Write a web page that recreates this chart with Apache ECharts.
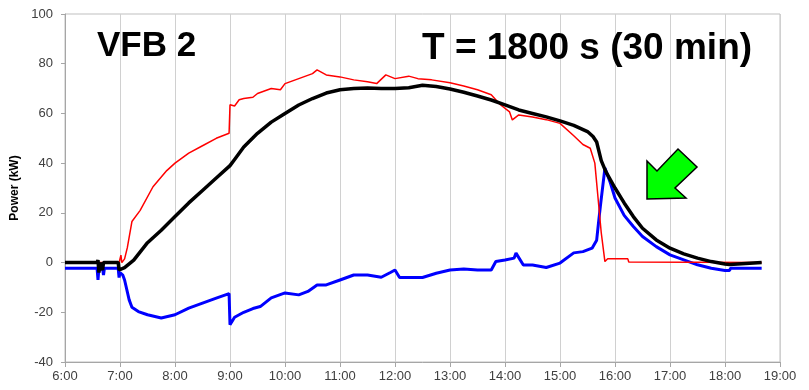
<!DOCTYPE html>
<html>
<head>
<meta charset="utf-8">
<script src="https://cdn.jsdelivr.net/npm/echarts@6/dist/echarts.min.js"></script>
<style>
  html, body { margin: 0; padding: 0; background: #fff; }
  #chart { width: 809px; height: 390px; }
</style>
</head>
<body>
<div id="chart"></div>
<script>
// time of day (h:mm) and power (kW)
var blackTimes = ['6:00','6:35','6:36','6:37','6:38','6:40','6:41','6:42','6:58','6:59','7:00','7:01','7:05','7:10','7:15','7:30','7:45','8:00','8:15','8:30','8:45','9:00','9:05','9:15','9:30','9:45','10:00','10:15','10:30','10:45','11:00','11:15','11:30','11:45','12:00','12:15','12:30','12:45','13:00','13:15','13:30','13:45','14:00','14:15','14:30','14:45','15:00','15:15','15:30','15:36','15:40','15:45','15:50','16:00','16:10','16:20','16:30','16:45','17:00','17:15','17:30','17:45','18:00','18:05','18:06','18:40'];
var blackValues = [0,0,1,-4,0,0.8,-3,0,0,-3,-3,-3.5,-2,-0.5,1,8,13,18.5,24,29,34,39,41.5,46.5,52,56.5,60,63.4,66,68.2,69.5,70,70.2,70,70,70.3,71.3,70.8,69.8,68.5,67,65.4,63.4,61.4,60,58.6,57,55.2,52.7,50.7,48.5,41,36.6,30,24,18.5,13.8,9.1,5.8,3.5,1.8,0.4,-0.6,-0.8,0,0];

var redTimes = ['6:00','6:59','7:01','7:02','7:05','7:08','7:13','7:22','7:36','7:51','8:00','8:15','8:30','8:45','8:59','9:00','9:05','9:10','9:15','9:25','9:30','9:45','9:55','10:00','10:15','10:30','10:35','10:45','11:00','11:15','11:30','11:40','11:50','12:00','12:15','12:25','12:40','13:00','13:15','13:30','13:45','13:55','14:05','14:08','14:15','14:30','14:45','15:00','15:15','15:25','15:33','15:38','15:41','15:45','15:49','15:52','16:14','16:15','18:40'];
var redValues = [0,0,3,0,1.5,6,16.5,21,30.5,37,40,44,47,50,52,63.5,63,65.5,66,66.5,68,70,69.5,72,74,76,77.5,75.5,74.7,73.5,72.7,72,75.5,74,75,74,73.5,72.3,71,69.5,67.5,63.5,60.6,57.4,59.4,58.6,57.5,56,51,47.5,46,40,28,12,0.4,1.5,1.5,0.2,0];

var blueTimes = ['6:00','6:35','6:36','6:37','6:41','6:42','6:43','6:58','6:59','7:00','7:03','7:05','7:10','7:13','7:20','7:30','7:45','8:00','8:15','8:30','8:45','8:59','9:00','9:05','9:15','9:25','9:33','9:45','10:00','10:15','10:25','10:35','10:45','11:00','11:15','11:30','11:45','11:55','12:00','12:05','12:15','12:30','12:45','13:00','13:15','13:30','13:45','13:50','14:00','14:10','14:12','14:20','14:30','14:45','15:00','15:15','15:25','15:35','15:40','15:42','15:44','15:49','15:55','16:00','16:10','16:20','16:30','16:45','17:00','17:15','17:30','17:45','18:00','18:05','18:06','18:40'];
var blueValues = [-2.3,-2.3,-7,-2.3,-2.3,-5,-2.3,-2.3,-6,-4,-5,-7,-15,-18,-19.7,-21,-22.3,-21,-18.3,-16.3,-14.3,-12.5,-25,-22,-20,-18.5,-17.7,-14.2,-12.2,-13,-11.6,-9,-9,-7,-5,-5,-5.9,-4,-3,-6,-6,-6,-4.3,-3,-2.6,-3,-3,0.4,1,1.8,3.8,-1,-1,-2,-0.2,3.9,4.4,5.8,9,16,22.5,38,32,26,19,14.5,10.5,6.4,3.1,1.1,-0.9,-2.3,-3.2,-3.2,-2.3,-2.3];

var yTicks = [-40, -20, 0, 20, 40, 60, 80, 100];

function toHours(t) {
    var p = t.split(':');
    return +p[0] + (+p[1]) / 60;
}
function pairs(times, values) {
    var out = [];
    for (var i = 0; i < times.length; i++) {
        out.push([toHours(times[i]), values[i]]);
    }
    return out;
}

var font = 'Liberation Sans, Arial, sans-serif';
var myChart = echarts.init(document.getElementById('chart'));
var options = {
    animation: false,
    title: [
        { text: 'VFB 2', left: 92, top: 24,
          textStyle: { fontFamily: font, fontSize: 35, fontWeight: 'bold', color: '#000' } },
        { text: 'T = 1800 s (30 min)', left: 417, top: 25,
          textStyle: { fontFamily: font, fontSize: 37, fontWeight: 'bold', color: '#000' } }
    ],
    grid: {
        left: 65, right: 29, top: 14, bottom: 28,
        show: true, borderColor: '#bfbfbf', borderWidth: 1
    },
    xAxis: {
        type: 'value', min: 6, max: 19, interval: 1,
        axisLine: { onZero: false, lineStyle: { color: '#a6a6a6' } },
        axisTick: { show: true, length: 5, lineStyle: { color: '#a6a6a6' } },
        axisLabel: {
            margin: 8, color: '#404040', fontFamily: font, fontSize: 13,
            formatter: function (v) { return v + ':00'; }
        },
        splitLine: { show: true, lineStyle: { color: '#d0d0d0' } }
    },
    yAxis: {
        type: 'value', min: yTicks[0], max: yTicks[yTicks.length - 1], interval: 20,
        name: 'Power (kW)', nameLocation: 'middle', nameGap: 42,
        nameTextStyle: { fontFamily: font, fontSize: 12, fontWeight: 'bold', color: '#000' },
        axisLine: { show: true, lineStyle: { color: '#a6a6a6' } },
        axisTick: { show: true, length: 4, lineStyle: { color: '#a6a6a6' } },
        axisLabel: { margin: 12, color: '#404040', fontFamily: font, fontSize: 13 },
        splitLine: { show: false }
    },
    series: [
        { name: 'blue', type: 'line', showSymbol: false, data: pairs(blueTimes, blueValues),
          lineStyle: { color: '#0000ff', width: 3 } },
        { name: 'red', type: 'line', showSymbol: false, data: pairs(redTimes, redValues),
          lineStyle: { color: '#ff0000', width: 1.5 } },
        { name: 'black', type: 'line', showSymbol: false, data: pairs(blackTimes, blackValues),
          lineStyle: { color: '#000000', width: 3.5 } }
    ],
    graphic: [
        {
            type: 'polygon',
            shape: { points: [[647, 199], [647, 161], [657, 171], [678, 149], [697, 167], [675, 188], [686, 198]] },
            style: { fill: '#00ff00', stroke: '#000', lineWidth: 1.5 },
            z: 100
        }
    ]
};
myChart.setOption(options);
</script>
</body>
</html>
